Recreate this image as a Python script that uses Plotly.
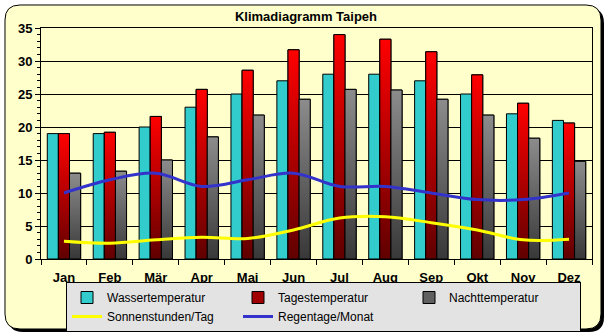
import plotly.graph_objects as go

months = ["Jan", "Feb", "Mär", "Apr", "Mai", "Jun", "Jul", "Aug", "Sep", "Okt", "Nov", "Dez"]
wasser = [19, 19, 20, 23, 25, 27, 28, 28, 27, 25, 22, 21]
tages = [19, 19.2, 21.6, 25.7, 28.6, 31.7, 34.0, 33.3, 31.4, 27.9, 23.6, 20.6]
nacht = [13.0, 13.3, 15.0, 18.5, 21.8, 24.2, 25.7, 25.6, 24.2, 21.8, 18.3, 14.8]
sonne = [2.7, 2.4, 2.9, 3.3, 3.1, 4.4, 6.2, 6.4, 5.5, 4.4, 2.9, 3.0]
regen = [10, 12, 13, 11, 12, 13, 11, 11, 10, 9, 9, 10]

W, H = 609, 336
L, R, T, B = 41, 592, 28, 259
BW = 0.242
xs = list(range(len(months)))

def px(x):
    return (x - L) / (R - L)

def py(y):
    return (B - y) / (B - T)

fig = go.Figure()

# legend carriers / base bars
fig.add_trace(go.Bar(x=xs, y=wasser, name="Wassertemperatur", width=BW, offset=-1.5 * BW,
                     marker=dict(color="#33CCCC", line=dict(color="black", width=1))))
fig.add_trace(go.Bar(x=xs, y=tages, name="Tagestemperatur", width=BW, offset=-0.5 * BW,
                     marker=dict(color="#A00000", line=dict(color="black", width=1))))
fig.add_trace(go.Bar(x=xs, y=nacht, name="Nachttemperatur", width=BW, offset=0.5 * BW,
                     marker=dict(color="#606060", line=dict(color="black", width=1))))

# gradient overlays
def grad_bars(vals, off, cs):
    for i, v in enumerate(vals):
        l = i + off
        r = l + BW
        fig.add_trace(go.Scatter(x=[l, l, r, r, l], y=[0, v, v, 0, 0], mode="lines",
                                 fill="toself", line=dict(color="black", width=1),
                                 fillgradient=dict(type="vertical", colorscale=cs),
                                 showlegend=False, hoverinfo="skip"))

grad_bars(tages, -0.5 * BW, [[0, "#600000"], [1, "#FF0000"]])
grad_bars(nacht, 0.5 * BW, [[0, "#383838"], [1, "#8C8C8C"]])

fig.add_trace(go.Scatter(x=xs, y=sonne, name="Sonnenstunden/Tag", mode="lines",
                         line=dict(color="#FFFF00", width=3, shape="spline", smoothing=1)))
fig.add_trace(go.Scatter(x=xs, y=regen, name="Regentage/Monat", mode="lines",
                         line=dict(color="#3333CC", width=3, shape="spline", smoothing=1)))

def rrect(x0, y0, x1, y1, r):
    pts = [
        ("M", [(x0 + r, y0)]),
        ("L", [(x1 - r, y0)]),
        ("Q", [(x1, y0), (x1, y0 + r)]),
        ("L", [(x1, y1 - r)]),
        ("Q", [(x1, y1), (x1 - r, y1)]),
        ("L", [(x0 + r, y1)]),
        ("Q", [(x0, y1), (x0, y1 - r)]),
        ("L", [(x0, y0 + r)]),
        ("Q", [(x0, y0), (x0 + r, y0)]),
    ]
    s = ""
    for cmd, ps in pts:
        s += cmd + " ".join(f"{px(a):.5f},{py(b):.5f}" for a, b in ps) + " "
    return s + "Z"

shapes = [
    dict(type="path", path=rrect(8, 8, 604, 332, 15), xref="paper", yref="paper",
         fillcolor="black", line=dict(width=0), layer="below"),
    dict(type="path", path=rrect(5, 5, 601, 329, 15), xref="paper", yref="paper",
         fillcolor="#FFFFCC", line=dict(color="black", width=1), layer="below"),
]

fig.update_layout(
    width=W, height=H,
    margin=dict(l=L, r=W - R, t=T, b=H - B, autoexpand=False),
    paper_bgcolor="white",
    plot_bgcolor="#C0C0C0",
    barmode="overlay",
    shapes=shapes,
    font=dict(family="Liberation Sans", color="black"),
    title=dict(text="<b>Klimadiagramm Taipeh</b>", x=306 / W, xanchor="center",
               y=1 - 16 / H, yanchor="middle", font=dict(size=13, color="black")),
    xaxis=dict(range=[-0.5, 11.5], tickvals=xs, ticktext=[f"<b>{m}</b>" for m in months],
               ticks="", showgrid=False, zeroline=False, showline=True, linecolor="black",
               linewidth=1, mirror=True, tickfont=dict(size=13), ticklabelstandoff=6,
               minor=dict(tickvals=[i - 0.5 for i in range(13)], ticks="outside",
                          ticklen=5, tickcolor="black", tickwidth=1, showgrid=False)),
    yaxis=dict(range=[0, 35], tickvals=list(range(0, 36, 5)),
               ticktext=[f"<b>{v}</b>" for v in range(0, 36, 5)],
               ticks="outside", ticklen=5, tickcolor="black", showgrid=True,
               gridcolor="black", gridwidth=1, zeroline=False, showline=True,
               linecolor="black", linewidth=1, mirror=True, tickfont=dict(size=13),
               minor=dict(dtick=1, ticks="outside", ticklen=3, tickcolor="black",
                          showgrid=False)),
    legend=dict(orientation="h", x=px(66), y=py(282), xanchor="left", yanchor="top",
                bgcolor="#E3E3E3", bordercolor="black", borderwidth=1,
                entrywidth=126, entrywidthmode="pixels",
                font=dict(size=12, family="Liberation Sans"), traceorder="normal"),
    showlegend=True,
)

fig.write_html("out.html")
